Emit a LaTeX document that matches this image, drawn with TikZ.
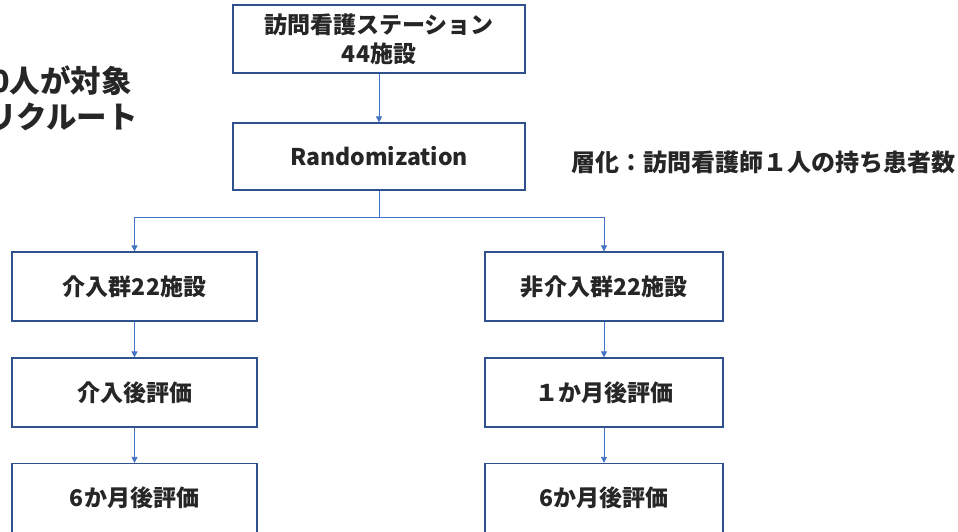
\documentclass[tikz,border=0pt]{standalone}
\usepackage{fontspec}
\setmainfont{Noto Sans CJK JP}
\usetikzlibrary{arrows.meta}
\definecolor{boxblue}{HTML}{2F528F}
\definecolor{lineblue}{HTML}{4472C4}
\tikzset{
  box/.style={draw=boxblue, line width=1.2pt, fill=white, inner sep=0pt, align=center,
    font=\fontsize{23}{29}\selectfont\bfseries, text=black!85},
  conn/.style={draw=lineblue, line width=0.8pt, -{Triangle[length=6pt,width=6pt]}},
  note/.style={inner sep=0pt, font=\bfseries, text=black!85, anchor=west}
}
\begin{document}
\begin{tikzpicture}[x=1pt,y=-1pt]
\useasboundingbox (0,0) rectangle (958,532);
\node[box, minimum width=292pt, minimum height=68pt] (top) at (379,39) {訪問看護ステーション\\44施設};
\node[box, minimum width=292pt, minimum height=67pt] (rand) at (379,156.5) {Randomization};
\node[box, minimum width=245pt, minimum height=69pt] (l1) at (134.5,286.5) {介入群22施設};
\node[box, minimum width=245pt, minimum height=69pt] (l2) at (134.5,392.5) {介入後評価};
\node[box, minimum width=245pt, minimum height=69pt] (l3) at (134.5,498) {6か月後評価};
\node[box, minimum width=238pt, minimum height=69pt] (r1) at (604,286.5) {非介入群22施設};
\node[box, minimum width=238pt, minimum height=69pt] (r2) at (604,392.5) {１か月後評価};
\node[box, minimum width=238pt, minimum height=69pt] (r3) at (604,498) {6か月後評価};
\coordinate (split) at (379,217);
\draw[conn] (top) -- (rand);
\draw[conn] (rand.south) -- (split) -| (l1.north);
\draw[conn] (split) -| (r1.north);
\draw[conn] (l1) -- (l2);
\draw[conn] (l2) -- (l3);
\draw[conn] (r1) -- (r2);
\draw[conn] (r2) -- (r3);
\node[note, font=\fontsize{24}{28}\selectfont\bfseries] (strat) at (571,162) {層化：訪問看護師１人の持ち患者数};
\node[note, anchor=east, font=\fontsize{30.5}{32}\selectfont\bfseries] (rec1) at (132,81) {0人が対象};
\node[note, anchor=east, font=\fontsize{30.5}{32}\selectfont\bfseries] (rec2) at (138,117) {リクルート};
\end{tikzpicture}
\end{document}
